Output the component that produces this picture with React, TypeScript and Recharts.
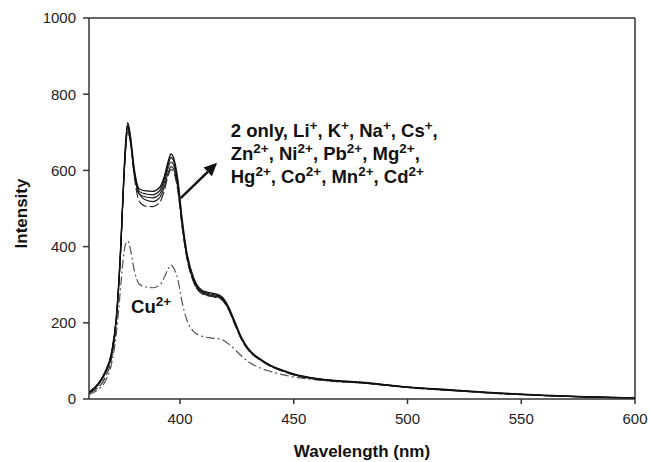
import { LineChart, Line, XAxis, YAxis, ReferenceLine, ReferenceDot, Label } from "recharts";

const FONT = "Arial, 'Liberation Sans', Helvetica, sans-serif";

const wavelengths = [
  360, 364, 367, 370, 372, 374, 375, 376, 377, 378, 380, 382, 385, 388, 391, 393, 395, 396, 397, 399, 401, 403,
  406, 410, 414, 418, 421, 424, 427, 430, 435, 440, 445, 450, 460, 470, 480, 490, 500, 520, 540, 560, 580, 600,
];

// the bundle of overlapping curves (2 only, Li+, K+, ...)
const ionsA = [
  18, 40, 70, 125, 215, 410, 545, 665, 725, 700, 600, 552, 546, 545, 555, 582, 628, 643, 636, 578, 470, 385, 318,
  284, 278, 270, 246, 205, 162, 133, 106, 88, 76, 66, 54, 48, 44, 38, 32, 24, 16, 10, 6, 3,
];
const ionsB = [
  17, 38, 68, 122, 210, 405, 540, 655, 718, 692, 592, 545, 538, 536, 546, 574, 620, 634, 628, 570, 462, 380, 314,
  281, 275, 267, 243, 202, 160, 131, 105, 87, 75, 65, 53, 47, 43, 37, 31, 23, 15, 9, 5, 3,
];
const ionsC = [
  16, 36, 65, 118, 205, 400, 535, 648, 708, 685, 585, 538, 530, 528, 538, 565, 610, 622, 617, 560, 455, 375, 310,
  278, 272, 264, 240, 199, 158, 130, 104, 86, 74, 64, 52, 46, 42, 36, 30, 22, 15, 9, 5, 2,
];
const ionsD = [
  15, 30, 55, 110, 200, 395, 530, 650, 715, 688, 580, 520, 506, 505, 515, 545, 590, 602, 598, 548, 448, 370, 306,
  275, 269, 262, 238, 197, 156, 128, 103, 85, 73, 63, 52, 46, 42, 36, 30, 22, 14, 9, 5, 2,
];
const ionsE = [
  17, 39, 69, 123, 212, 402, 538, 645, 700, 680, 588, 540, 522, 518, 528, 555, 598, 610, 606, 556, 452, 372, 308,
  276, 270, 265, 241, 200, 159, 130, 104, 86, 75, 65, 53, 47, 43, 37, 31, 23, 15, 9, 5, 3,
];
const copper = [
  12, 25, 45, 95, 170, 300, 365, 405, 415, 398, 335, 302, 294, 292, 298, 318, 344, 352, 346, 315, 252, 208, 177,
  164, 160, 157, 146, 131, 113, 98, 82, 72, 64, 58, 50, 45, 42, 37, 31, 23, 15, 10, 6, 3,
];

const xTicks = [400, 450, 500, 550, 600];
const yTicks = [0, 200, 400, 600, 800, 1000];

const ionLines: [string, boolean][][] = [
  [["2 only, Li", false], ["+", true], [", K", false], ["+", true], [", Na", false], ["+", true], [", Cs", false], ["+", true], [",", false]],
  [["Zn", false], ["2+", true], [", Ni", false], ["2+", true], [", Pb", false], ["2+", true], [", Mg", false], ["2+", true], [",", false]],
  [["Hg", false], ["2+", true], [", Co", false], ["2+", true], [", Mn", false], ["2+", true], [", Cd", false], ["2+", true]],
];
const cuLabel: [string, boolean][] = [["Cu", false], ["2+", true]];

const ionsLabelAt = { x: 422.3, y: 688 };
const cuLabelAt = { x: 378.5, y: 226 };
const arrowFrom = { x: 400.3, y: 527 };
const arrowTo = { x: 416.3, y: 620 };

const data = wavelengths.map((wl, i) => ({
  wl,
  a: ionsA[i],
  b: ionsB[i],
  c: ionsC[i],
  d: ionsD[i],
  e: ionsE[i],
  cu: copper[i],
}));

const RichLine = ({ x, y, parts }: { x: number; y: number; parts: [string, boolean][] }) => {
  let shifted = false;
  return (
    <text x={x} y={y} fontFamily={FONT} fontWeight="bold" fontSize={18.5} fill="#111">
      {parts.map(([t, sup], i) => {
        let dy = 0;
        if (sup && !shifted) dy = -7;
        if (!sup && shifted) dy = 7;
        shifted = sup;
        return (
          <tspan key={i} dy={dy} fontSize={sup ? 13.5 : 18.5}>
            {t}
          </tspan>
        );
      })}
    </text>
  );
};

const Arrow = (props: any) => {
  const { x1, y1, x2, y2 } = props;
  const ang = Math.atan2(y2 - y1, x2 - x1);
  const len = 13;
  const half = 6;
  const bx = x2 - len * Math.cos(ang);
  const by = y2 - len * Math.sin(ang);
  const px = -Math.sin(ang) * half;
  const py = Math.cos(ang) * half;
  return (
    <g>
      <line x1={x1} y1={y1} x2={bx} y2={by} stroke="#111" strokeWidth={2.5} />
      <polygon points={`${x2},${y2} ${bx + px},${by + py} ${bx - px},${by - py}`} fill="#111" />
    </g>
  );
};

const App = () => {
  const axisStroke = "#333";
  const tickStyle = { fontFamily: FONT, fontSize: 15, fill: "#222" };
  return (
    <div style={{ position: "absolute", left: 0, top: 0, background: "#fff" }}>
      <LineChart width={650} height={462} data={data} margin={{ top: 18, right: 15, left: 0, bottom: 0 }}>
        <XAxis
          dataKey="wl"
          type="number"
          domain={[360, 600]}
          ticks={xTicks}
          interval={0}
          allowDataOverflow
          height={63}
          tickSize={5}
          tickMargin={9}
          stroke={axisStroke}
          strokeWidth={1.5}
          tick={tickStyle}
        >
          <Label
            value="Wavelength (nm)"
            position="insideBottom"
            offset={5}
            style={{ fontFamily: FONT, fontSize: 17, fontWeight: "bold", fill: "#111" }}
          />
        </XAxis>
        <YAxis
          type="number"
          domain={[0, 1000]}
          ticks={yTicks}
          interval={0}
          width={89}
          tickSize={6}
          tickMargin={7}
          stroke={axisStroke}
          strokeWidth={1.5}
          tick={tickStyle}
        >
          <Label
            content={({ viewBox }: any) => {
              const cx = viewBox.x + 21;
              const cy = viewBox.y + viewBox.height / 2 + 5;
              return (
                <text
                  x={cx}
                  y={cy}
                  transform={`rotate(-90, ${cx}, ${cy})`}
                  textAnchor="middle"
                  dominantBaseline="central"
                  fontFamily={FONT}
                  fontSize={17}
                  fontWeight="bold"
                  fill="#111"
                >
                  Intensity
                </text>
              );
            }}
          />
        </YAxis>
        <ReferenceLine y={1000} stroke={axisStroke} strokeWidth={1.5} />
        <ReferenceLine x={600} stroke={axisStroke} strokeWidth={1.5} />

        <Line type="monotone" dataKey="cu" stroke="#555" strokeWidth={1.2} strokeDasharray="9 3 2 3" dot={false} isAnimationActive={false} />
        <Line type="monotone" dataKey="d" stroke="#222" strokeWidth={1.1} strokeDasharray="10 3" dot={false} isAnimationActive={false} />
        <Line type="monotone" dataKey="e" stroke="#222" strokeWidth={1.1} dot={false} isAnimationActive={false} />
        <Line type="monotone" dataKey="c" stroke="#222" strokeWidth={1.1} dot={false} isAnimationActive={false} />
        <Line type="monotone" dataKey="b" stroke="#111" strokeWidth={1.2} dot={false} isAnimationActive={false} />
        <Line type="monotone" dataKey="a" stroke="#111" strokeWidth={1.3} dot={false} isAnimationActive={false} />

        <ReferenceLine segment={[arrowFrom, arrowTo]} shape={(p: any) => <Arrow {...p} />} />
        <ReferenceDot
          x={ionsLabelAt.x}
          y={ionsLabelAt.y}
          r={0}
          shape={(p: any) => (
            <g>
              {ionLines.map((parts, i) => (
                <RichLine key={i} x={p.cx} y={p.cy + i * 23} parts={parts} />
              ))}
            </g>
          )}
        />
        <ReferenceDot
          x={cuLabelAt.x}
          y={cuLabelAt.y}
          r={0}
          shape={(p: any) => <RichLine x={p.cx} y={p.cy} parts={cuLabel} />}
        />
      </LineChart>
    </div>
  );
};

export default App;
